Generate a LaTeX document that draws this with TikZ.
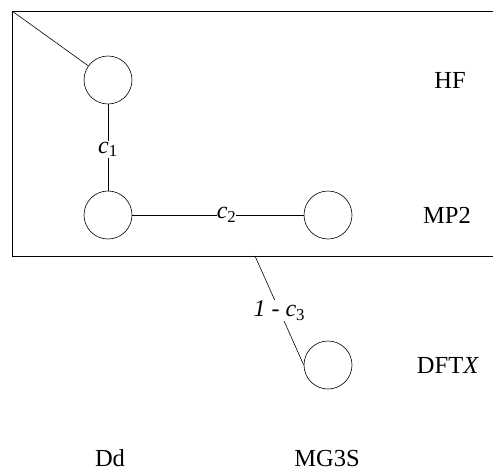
\documentclass[tikz,border=0pt]{standalone}
\usepackage{fontspec}
\setmainfont{Liberation Serif}
\usepackage{tikz}

\begin{document}
\begin{tikzpicture}[x=1pt, y=-1pt, line width=0.6pt,
		lvl/.style={circle, draw, minimum size=48pt, inner sep=0pt},
		lbl/.style={font=\fontsize{24.5}{29}\selectfont},
		cut/.style={fill=white, inner sep=1pt, font=\fontsize{24}{28}\selectfont}]
			\useasboundingbox (0,0) rectangle (493,474);
			\clip (0,0) rectangle (493,474);
			\draw (12,11) rectangle (500,256);
			\coordinate (corner) at (12,11);
			\coordinate (exit) at (255,256);
			\node[lvl] (hf) at (108,80) {};
			\node[lvl] (mpa) at (108,215) {};
			\node[lvl] (mpb) at (328,215) {};
			\node[lvl] (dft) at (328,365) {};
			\draw (corner)--(hf);
			\draw (hf)--(mpa) node[cut, pos=0.52] {\textit{c}\textsubscript{1}};
			\draw (mpa)--(mpb) node[cut, pos=0.55, inner sep=0pt] {\textit{c}\textsubscript{2}};
			\draw (exit)--(dft.west) node[cut, midway] {\textit{1} - \textit{c}\textsubscript{3}};
			\node[lbl] (hflab) at (450,80) {HF};
			\node[lbl] (mplab) at (447,215) {MP2};
			\node[lbl] (dftlab) at (448,365) {DFT\textit{X}};
			\node[lbl, anchor=base, inner sep=0pt] (ddlab) at (110,466) {Dd};
			\node[lbl, anchor=base, inner sep=0pt] (mglab) at (327,466) {MG3S};
		\end{tikzpicture}
\end{document}
